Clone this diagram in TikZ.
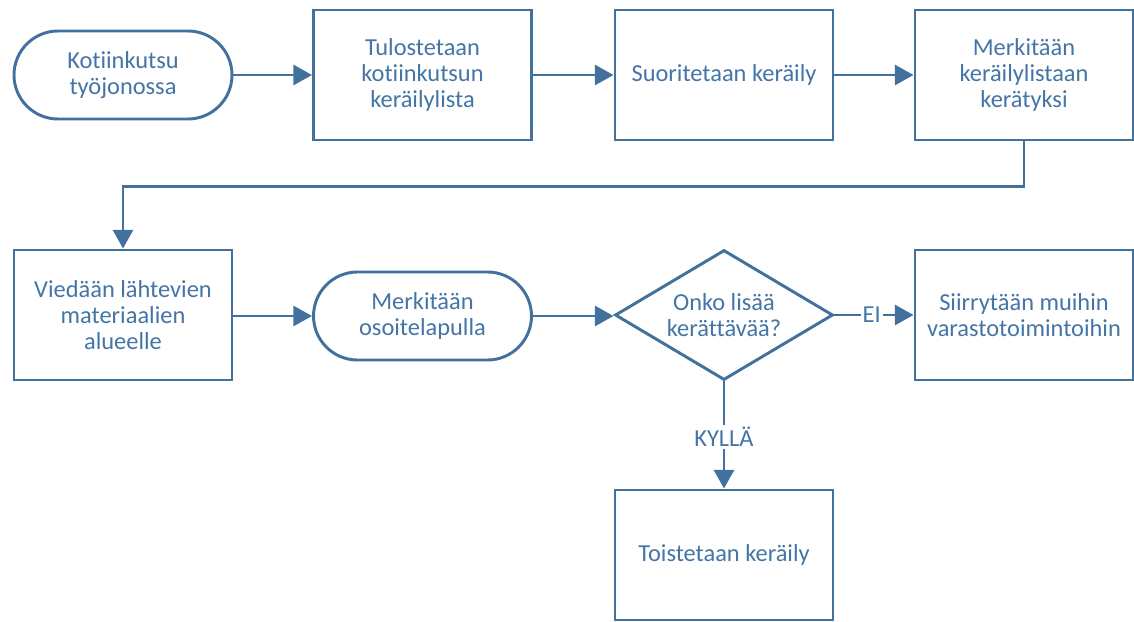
\documentclass[tikz,border=0pt]{standalone}
\usepackage{fontspec}
\setmainfont[RawFeature=-liga]{Carlito}
\usetikzlibrary{shapes.geometric,arrows.meta,calc}
\definecolor{lineblue}{RGB}{65,113,156}
\definecolor{textblue}{RGB}{68,117,166}
\begin{document}
\begin{tikzpicture}[x=0.75pt,y=-0.75pt,
  every node/.style={font=\fontsize{18.3}{19.5}\selectfont, text=textblue, align=center},
  procbox/.style={draw=lineblue, line width=2.2pt, fill=white, minimum width=163.5pt, minimum height=97.5pt, inner sep=2pt},
  termbox/.style={draw=lineblue, line width=2.2pt, fill=white, rounded corners=33pt, minimum width=163.5pt, minimum height=66pt, inner sep=2pt},
  decbox/.style={draw=lineblue, line width=2.2pt, fill=white, diamond, aspect=1.677, minimum width=163.5pt, minimum height=97.5pt, inner sep=0pt},
  conn/.style={draw=lineblue, line width=2.2pt, -{Triangle[length=14pt,width=15pt]}},
  lbl/.style={fill=white, inner sep=1.5pt}
]
\useasboundingbox (0,0) rectangle (1134,621);
\node[termbox] (t1) at (123,75) {Kotiinkutsu\\työjonossa};
\node[procbox] (b2) at (422.5,75) {Tulostetaan\\kotiinkutsun\\keräilylista};
\node[procbox] (b3) at (724,75) {Suoritetaan keräily};
\node[procbox] (b4) at (1024,75) {Merkitään\\keräilylistaan\\kerätyksi};
\node[procbox] (b5) at (123,315) {Viedään lähtevien\\materiaalien\\alueelle};
\node[termbox] (t2) at (422.5,316) {Merkitään\\osoitelapulla};
\node[decbox, label={[name=dl]center:{Onko lisää\\kerättävää?}}] (d) at (724,315) {};
\node[procbox] (b6) at (1024,315) {Siirrytään muihin\\varastotoimintoihin};
\node[procbox] (b7) at (724,555) {Toistetaan keräily};

\draw[conn] (t1.east) -- (b2.west);
\draw[conn] (b2.east) -- (b3.west);
\draw[conn] (b3.east) -- (b4.west);
\draw[conn] (b4.south) -- ++(0,45) -| (b5.north);
\draw[conn] (b5.east |- t2.west) -- (t2.west);
\draw[conn] (t2.east) -- (t2.east -| d.west);
\draw[conn] (d.east) -- node[lbl, pos=0.47] (ei) {EI} (b6.west);
\draw[conn] (d.south) -- node[lbl, pos=0.52] (ky) {KYLLÄ} (b7.north);
\end{tikzpicture}
\end{document}
